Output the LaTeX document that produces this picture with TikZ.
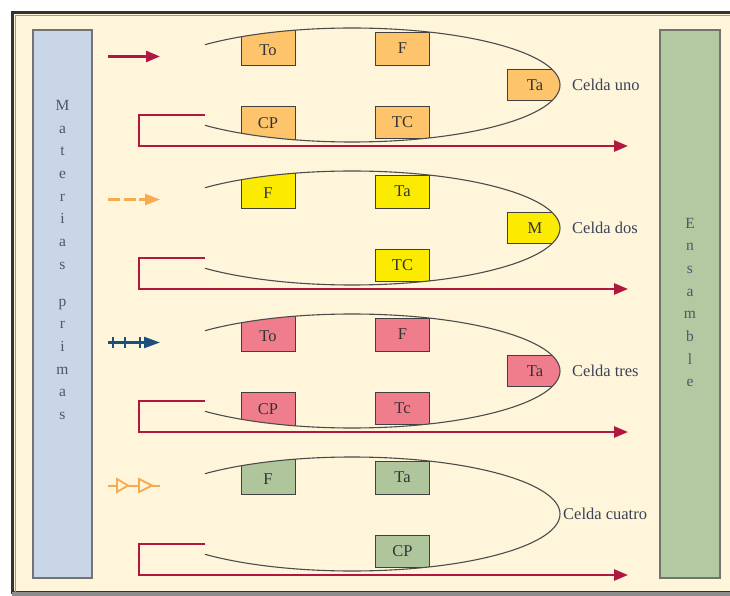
\documentclass[tikz,border=0pt]{standalone}
\usepackage{fontspec}
\setmainfont{Liberation Serif}
\usetikzlibrary{arrows.meta,decorations.markings}

\definecolor{bgcream}{HTML}{FEF5DB}
\definecolor{rawblue}{HTML}{C8D6E7}
\definecolor{asmgreen}{HTML}{B3C9A1}
\definecolor{flowred}{HTML}{B2173F}
\definecolor{flowamber}{HTML}{F8AA4E}
\definecolor{flownavy}{HTML}{1D4F7C}
\definecolor{boxorange}{HTML}{FDC46B}
\definecolor{boxyellow}{HTML}{FAEB00}
\definecolor{boxpink}{HTML}{EF7D8B}
\definecolor{boxgreen}{HTML}{AFC59C}
\definecolor{inktext}{HTML}{3B4256}
\definecolor{sideink}{HTML}{4E5769}

% label of a box that runs past the ring: baseline placed by hand
\newcommand{\shiftin}[2]{\smash{\raisebox{#1}{#2}}}

\tikzset{
  x=1pt, y=1pt,
  machine/.style={draw=black!75, line width=0.9pt, fill=#1, inner sep=0pt,
    font=\fontsize{16.5}{18}\selectfont, text=black!80},
  topbox/.style={machine=#1, minimum width=54pt, minimum height=33pt},
  lowbox/.style={machine=#1, minimum width=54pt, minimum height=32pt},
  tallbox/.style={machine=#1, minimum width=54pt, minimum height=42pt},
  endbox/.style={machine=#1, minimum width=56pt, minimum height=31pt},
  cellring/.style={draw=black!70, line width=1.1pt},
  celllabel/.style={anchor=west, inner sep=2pt, text=inktext,
    font=\fontsize{16.5}{18}\selectfont},
  sidebar/.style={draw=black!55, line width=1.4pt},
  sidetext/.style={align=center, text=sideink, inner sep=0pt,
    font=\fontsize{15.5}{22.7}\selectfont},
  returnline/.style={draw=flowred, line width=2.6pt,
    -{Triangle[length=14pt,width=11pt]}},
  feedred/.style={draw=flowred, line width=2.6pt,
    -{Triangle[length=14pt,width=11pt]}},
  feedamber/.style={draw=flowamber, line width=2.4pt, dash pattern=on 12pt off 3.5pt,
    -{Triangle[length=15pt,width=11pt]}},
  navytick/.style={-, draw=flownavy, line width=2pt},
  feednavy/.style={draw=flownavy, line width=2.4pt,
    -{Triangle[length=16pt,width=11pt]},
    postaction={decorate, decoration={markings,
      mark=at position 5pt with {\draw[navytick] (0,-5.5) -- (0,5.5);},
      mark=at position 17pt with {\draw[navytick] (0,-5.5) -- (0,5.5);},
      mark=at position 32pt with {\draw[navytick] (0,-5.5) -- (0,5.5);}}}},
  hollowhead/.style={-, draw=flowamber, fill=bgcream, line width=1.8pt, line join=miter},
  feedhollow/.style={draw=flowamber, line width=2pt,
    postaction={decorate, decoration={markings,
      mark=at position 20pt with {\draw[hollowhead] (-11,-6.5) -- (0,0) -- (-11,6.5) -- cycle;},
      mark=at position 44pt with {\draw[hollowhead] (-13,-6.5) -- (0,0) -- (-13,6.5) -- cycle;}}}},
}

\begin{document}
\begin{tikzpicture}
\useasboundingbox (0,0) rectangle (730,595);
\clip (0,0) rectangle (730,595);
\fill[white] (0,0) rectangle (730,595);

% outer frame
\draw[fill=bgcream, draw=black!80, line width=3pt] (12.5,3) rectangle (760,582.5);
\draw[draw=black!40, line width=1.5pt] (15.5,2) -- (15.5,579.5) -- (760,579.5);
\draw[draw=black!45, line width=4pt] (12,1) -- (760,1);

% side bars
\node[sidebar, fill=rawblue, minimum width=59pt, minimum height=548pt, inner sep=0pt]
  (raw) at (62.5,291) {};
\node[sidebar, fill=asmgreen, minimum width=60pt, minimum height=548pt, inner sep=0pt]
  (asm) at (690,291) {};
\node[sidetext] (rawtext) at (62.5,335)
  {M\\a\\t\\e\\r\\i\\a\\s\\[14pt]p\\r\\i\\m\\a\\s};
\node[sidetext] (asmtext) at (690,292.5)
  {E\\n\\s\\a\\m\\b\\l\\e};

% ---------- Celda uno ----------
\begin{scope}[yshift=510pt]
  \begin{scope}
    \clip (352,0) ellipse [x radius=208, y radius=57];
    \node[tallbox=boxorange] (c1to) at (268,41) {\shiftin{-11.5pt}{To}};
    \node[topbox=boxorange] (c1f)  at (402.5,36.5) {F};
    \node[tallbox=boxorange] (c1cp) at (268,-42) {\shiftin{-1.5pt}{CP}};
    \node[lowbox=boxorange] (c1tc) at (402.5,-37) {TC};
    \node[endbox=boxorange] (c1ta) at (535,0) {Ta};
  \end{scope}
  \draw[cellring] (352,0) ++(135:208 and 57)
    arc[start angle=135, end angle=-135, x radius=208, y radius=57];
  \node[celllabel] (c1name) at (570,0) {Celda uno};
  \coordinate (c1in) at (108,28.5);
  \coordinate (c1out) at (160,28.5);
  \draw[feedred] (c1in) -- (c1out);
  \coordinate (c1ra) at (205,-30);
  \coordinate (c1rb) at (139,-30);
  \coordinate (c1rc) at (139,-61);
  \coordinate (c1rd) at (628,-61);
  \draw[returnline] (c1ra) -- (c1rb) -- (c1rc) -- (c1rd);
\end{scope}

% ---------- Celda dos ----------
\begin{scope}[yshift=367pt]
  \begin{scope}
    \clip (352,0) ellipse [x radius=208, y radius=57];
    \node[tallbox=boxyellow] (c2f)  at (268,41) {\shiftin{-11.5pt}{F}};
    \node[topbox=boxyellow] (c2ta) at (402.5,36.5) {Ta};
    \node[lowbox=boxyellow] (c2tc) at (402.5,-37) {TC};
    \node[endbox=boxyellow] (c2m)  at (535,0) {M};
  \end{scope}
  \draw[cellring] (352,0) ++(135:208 and 57)
    arc[start angle=135, end angle=-135, x radius=208, y radius=57];
  \node[celllabel] (c2name) at (570,0) {Celda dos};
  \coordinate (c2in) at (108,28.5);
  \coordinate (c2out) at (160,28.5);
  \draw[feedamber] (c2in) -- (c2out);
  \coordinate (c2ra) at (205,-30);
  \coordinate (c2rb) at (139,-30);
  \coordinate (c2rc) at (139,-61);
  \coordinate (c2rd) at (628,-61);
  \draw[returnline] (c2ra) -- (c2rb) -- (c2rc) -- (c2rd);
\end{scope}

% ---------- Celda tres ----------
\begin{scope}[yshift=224pt]
  \begin{scope}
    \clip (352,0) ellipse [x radius=208, y radius=57];
    \node[tallbox=boxpink] (c3to) at (268,41) {\shiftin{-11.5pt}{To}};
    \node[topbox=boxpink] (c3f)  at (402.5,36.5) {F};
    \node[tallbox=boxpink] (c3cp) at (268,-42) {\shiftin{-1.5pt}{CP}};
    \node[lowbox=boxpink] (c3tc) at (402.5,-37) {Tc};
    \node[endbox=boxpink] (c3ta) at (535,0) {Ta};
  \end{scope}
  \draw[cellring] (352,0) ++(135:208 and 57)
    arc[start angle=135, end angle=-135, x radius=208, y radius=57];
  \node[celllabel] (c3name) at (570,0) {Celda tres};
  \coordinate (c3in) at (108,28.5);
  \coordinate (c3out) at (160,28.5);
  \draw[feednavy] (c3in) -- (c3out);
  \coordinate (c3ra) at (205,-30);
  \coordinate (c3rb) at (139,-30);
  \coordinate (c3rc) at (139,-61);
  \coordinate (c3rd) at (628,-61);
  \draw[returnline] (c3ra) -- (c3rb) -- (c3rc) -- (c3rd);
\end{scope}

% ---------- Celda cuatro ----------
\begin{scope}[yshift=81pt]
  \begin{scope}
    \clip (352,0) ellipse [x radius=208, y radius=57];
    \node[tallbox=boxgreen] (c4f)  at (268,41) {\shiftin{-11.5pt}{F}};
    \node[topbox=boxgreen] (c4ta) at (402.5,36.5) {Ta};
    \node[lowbox=boxgreen] (c4cp) at (402.5,-37) {CP};
  \end{scope}
  \draw[cellring] (352,0) ++(135:208 and 57)
    arc[start angle=135, end angle=-135, x radius=208, y radius=57];
  \node[celllabel] (c4name) at (561,0) {Celda cuatro};
  \coordinate (c4in) at (108,28.5);
  \coordinate (c4out) at (160,28.5);
  \draw[feedhollow] (c4in) -- (c4out);
  \coordinate (c4ra) at (205,-30);
  \coordinate (c4rb) at (139,-30);
  \coordinate (c4rc) at (139,-61);
  \coordinate (c4rd) at (628,-61);
  \draw[returnline] (c4ra) -- (c4rb) -- (c4rc) -- (c4rd);
\end{scope}
\end{tikzpicture}
\end{document}
